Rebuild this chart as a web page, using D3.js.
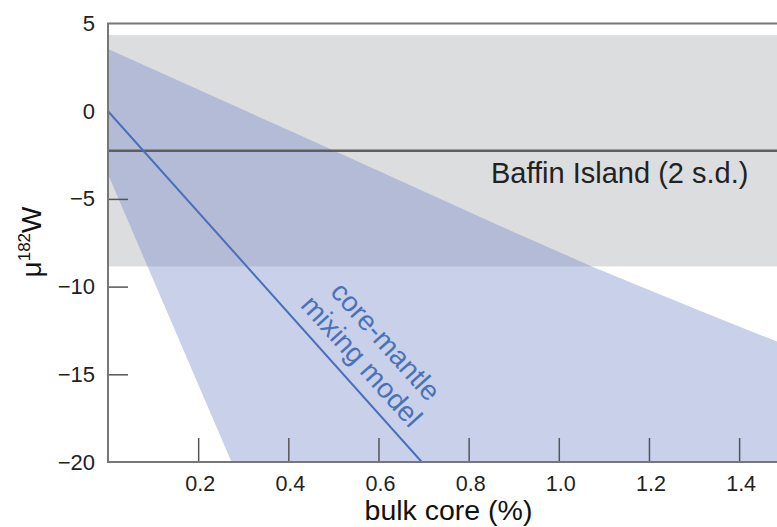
<!DOCTYPE html>
<html>
<head>
<meta charset="utf-8">
<script src="https://cdn.jsdelivr.net/npm/d3@7"></script>
<style>
  html, body { margin: 0; padding: 0; background: #fff; }
  svg { display: block; }
  text { font-family: "Liberation Sans", Arial, Helvetica, sans-serif; }
</style>
</head>
<body>
<div id="chart"></div>
<script>
// ---- data ----
const xTicks = [0.2, 0.4, 0.6, 0.8, 1.0, 1.2, 1.4];
const yTicks = [5, 0, -5, -10, -15, -20];
const yTickMarks = [-5, -10, -15];
const baffinMean = -2.25;
const baffinUpper = 4.35;
const baffinLower = -8.85;
const modelLine = [[0, 0], [0.696, -20]];
const bandUpper = [[0, 3.55], [0.427, -1.39], [0.866, -6.5], [1.073, -8.85], [1.313, -11.38], [1.5, -13.3]];
const bandLower = [[0, -3.6], [0.274, -20]];
const xTitle = "bulk core (%)";
const baffinLabel = "Baffin Island (2 s.d.)";
const modelLabel = ["core-mantle", "mixing model"];

// ---- layout ----
const W = 777, H = 527;
const mLeft = 108, mTop = 23.5, mBottom = 462;
const x = d3.scaleLinear().domain([0, 1.5]).range([mLeft, mLeft + 1.5 * 450.8]);
const y = d3.scaleLinear().domain([-20, 5]).range([mBottom, mTop]);

const svg = d3.select("#chart").append("svg").attr("width", W).attr("height", H);

svg.append("clipPath").attr("id", "plot")
  .append("rect").attr("x", mLeft).attr("y", mTop).attr("width", W - mLeft).attr("height", mBottom - mTop);

const plot = svg.append("g").attr("clip-path", "url(#plot)");

// gray band
plot.append("rect")
  .attr("x", x(0)).attr("width", x(1.5) - x(0))
  .attr("y", y(baffinUpper)).attr("height", y(baffinLower) - y(baffinUpper))
  .attr("fill", "#dcdddf");

// blue uncertainty band
const bandPoly = bandUpper.concat([[1.5, -20]], bandLower.slice().reverse());
plot.append("path")
  .attr("d", d3.line().x(d => x(d[0])).y(d => y(d[1]))(bandPoly) + "Z")
  .attr("fill", "rgb(118,138,203)").attr("fill-opacity", 0.4);

// Baffin mean line
plot.append("line")
  .attr("x1", x(0)).attr("x2", x(1.5))
  .attr("y1", y(baffinMean)).attr("y2", y(baffinMean))
  .attr("stroke", "#5e5e5e").attr("stroke-width", 2.5);

// model line
plot.append("path")
  .attr("d", d3.line().x(d => x(d[0])).y(d => y(d[1]))(modelLine))
  .attr("fill", "none").attr("stroke", "#4a6fb8").attr("stroke-width", 2);

// axes
const xAxis = d3.axisBottom(x).tickValues(xTicks).tickFormat(d3.format(".1f")).tickSize(-24).tickPadding(30);
const gx = svg.append("g").attr("transform", `translate(0,${mBottom})`).call(xAxis);
gx.select(".domain").remove();
gx.selectAll(".tick line").attr("stroke", "#555").attr("stroke-width", 1.5);
gx.selectAll(".tick text").attr("font-size", 21.5).attr("fill", "#222").attr("dy", 0).attr("y", 28.5).attr("x", 1.5);

const yAxis = d3.axisLeft(y).tickValues(yTicks).tickSize(-20).tickPadding(13);
const gy = svg.append("g").attr("transform", `translate(${mLeft},0)`).call(yAxis);
gy.select(".domain").remove();
gy.selectAll(".tick line")
  .attr("stroke", "#555").attr("stroke-width", 1.5)
  .attr("display", d => yTickMarks.includes(d) ? null : "none");
gy.selectAll(".tick text").attr("font-size", 22).attr("fill", "#222").attr("x", -13);

// frame lines
const frame = svg.append("g").attr("stroke", "#777").attr("stroke-width", 2).attr("fill", "none");
frame.append("line").attr("x1", mLeft).attr("x2", mLeft).attr("y1", mTop).attr("y2", mBottom + 1);
frame.append("line").attr("x1", mLeft).attr("x2", W).attr("y1", mBottom).attr("y2", mBottom);
frame.append("line").attr("x1", mLeft - 1).attr("x2", W).attr("y1", mTop).attr("y2", mTop);

// titles
svg.append("text").attr("x", 448.5).attr("y", 520).attr("text-anchor", "middle")
  .attr("font-size", 28.5).attr("fill", "#111").text(xTitle);

const yt = svg.append("text").attr("transform", "translate(41,242) rotate(-90)")
  .attr("text-anchor", "middle").attr("font-size", 28).attr("fill", "#111");
yt.append("tspan").text("μ");
yt.append("tspan").attr("font-size", 17).attr("dy", -11).text("182");
yt.append("tspan").attr("dy", 11).text("W");

// Baffin label
svg.append("text").attr("x", 491).attr("y", 183).attr("font-size", 29).attr("fill", "#222").text(baffinLabel);

// model label, placed along the model line
const p0 = [x(modelLine[0][0]), y(modelLine[0][1])];
const p1 = [x(modelLine[1][0]), y(modelLine[1][1])];
const ang = Math.atan2(p1[1] - p0[1], p1[0] - p0[0]);
const len = Math.hypot(p1[0] - p0[0], p1[1] - p0[1]);
const dir = [Math.cos(ang), Math.sin(ang)];
const up = [Math.sin(ang), -Math.cos(ang)];
const offsets = [44, 13];
const along = [0.758, 0.755];
modelLabel.forEach((t, i) => {
  const cx = p0[0] + dir[0] * len * along[i] + up[0] * offsets[i];
  const cy = p0[1] + dir[1] * len * along[i] + up[1] * offsets[i];
  svg.append("text")
    .attr("transform", `translate(${cx},${cy}) rotate(${ang * 180 / Math.PI})`)
    .attr("text-anchor", "middle").attr("font-size", 28).attr("fill", "#4a72b8")
    .text(t);
});
</script>
</body>
</html>
